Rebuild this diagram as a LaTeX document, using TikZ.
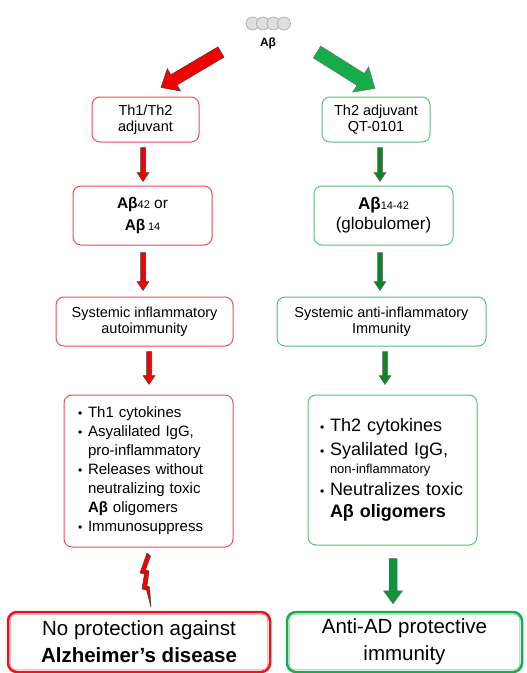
\documentclass[tikz,border=0pt]{standalone}
\usepackage{fontspec}
\setmainfont{Liberation Sans}
\usepackage{tikz}
\usetikzlibrary{calc}
\definecolor{boxred}{rgb}{0.93,0.30,0.32}
\definecolor{boxgreen}{rgb}{0.35,0.75,0.45}
\definecolor{arrred}{rgb}{0.96,0.0,0.0}
\definecolor{arrgreen}{rgb}{0.08,0.68,0.28}
\definecolor{darkgreen}{rgb}{0.05,0.52,0.15}
\definecolor{endred}{rgb}{0.93,0.08,0.10}
\definecolor{endgreen}{rgb}{0.10,0.68,0.32}

\newcommand{\blockarrow}[6][]{%
	\path (#2) coordinate (ba-s) (#3) coordinate (ba-t);
	\path ($(ba-t)!#6!(ba-s)$) coordinate (ba-h);
	\filldraw[#1] ($(ba-s)!#4!90:(ba-t)$) -- ($(ba-h)!#4!90:(ba-t)$)
		-- ($(ba-h)!#5!90:(ba-t)$) -- (ba-t) -- ($(ba-h)!#5!-90:(ba-t)$)
		-- ($(ba-h)!#4!-90:(ba-t)$) -- ($(ba-s)!#4!-90:(ba-t)$) -- cycle;}
\newcommand{\bul}{\makebox[10pt][l]{\fontsize{12pt}{12pt}\selectfont\textbullet}}

\begin{document}
\begin{tikzpicture}[x=1pt, y=-1pt,
	bead/.style={circle, draw=gray!70, fill=gray!25, line width=0.6pt, minimum size=13pt, inner sep=0pt},
	redbox/.style={draw=boxred, line width=1pt, rounded corners=8pt, align=center, inner sep=0pt},
	greenbox/.style={draw=boxgreen, line width=1pt, rounded corners=8pt, align=center, inner sep=0pt},
	endbox/.style={line width=2.5pt, rounded corners=9pt, align=center, inner sep=0pt, font=\fontsize{20.5}{27}\selectfont},
	small/.style={font=\fontsize{14.5}{16}\selectfont},
	redarrow/.style={fill=arrred, draw=black!75, line width=0.5pt},
	greenarrow/.style={fill=darkgreen, draw=black!60, line width=0.5pt}]
	\useasboundingbox (0,0) rectangle (527,673);
	\foreach \i in {0,...,3}{
		\node[bead] (c\i) at (252.5+10.5*\i, 23.5) {};
	}
	\node[font=\bfseries\fontsize{12}{12}\selectfont] (ab) at (268,43) {Aβ};

	\node[redbox, small, minimum width=107pt, minimum height=45pt] (l1) at (145.5,119.5) {Th1/Th2\\adjuvant};
	\node[redbox, font=\fontsize{15.5}{22}\selectfont, minimum width=139pt, minimum height=59pt] (l2) at (142.5,215.5)
		{\textbf{Aβ}{\fontsize{11}{11}\selectfont 42} or\\\textbf{Aβ}\,{\fontsize{11}{11}\selectfont 14}};
	\node[redbox, small, minimum width=177pt, minimum height=49pt] (l3) at (144.5,321.5) {Systemic inflammatory\\autoimmunity};
	\node[redbox, font=\fontsize{15}{19}\selectfont, minimum width=169pt, minimum height=152pt, text width=141pt, align=left] (l4) at (148.5,471)
		{\bul Th1 cytokines\\ \bul Asyalilated IgG,\\ \hspace*{10pt}pro-inflammatory\\ \bul Releases without\\ \hspace*{10pt}neutralizing toxic\\ \hspace*{10pt}\textbf{Aβ} oligomers\\ \bul Immunosuppress};
	\node[endbox, draw=endred, minimum width=262pt, minimum height=60pt] (lb) at (139,642) {No protection against\\\textbf{Alzheimer’s disease}};
	\draw[boxred!60, line width=0.6pt, rounded corners=6pt] ([shift={(3.5pt,-3.5pt)}]lb.north west) rectangle ([shift={(-3.5pt,3.5pt)}]lb.south east);

	\node[greenbox, small, minimum width=108pt, minimum height=45pt] (r1) at (376,119.5) {Th2 adjuvant\\QT-0101};
	\node[greenbox, font=\fontsize{17}{20}\selectfont, minimum width=139pt, minimum height=59pt] (r2) at (383.5,215.5)
		{\textbf{Aβ}{\fontsize{11}{11}\selectfont 14-42}\\(globulomer)};
	\node[greenbox, small, minimum width=209pt, minimum height=49pt] (r3) at (381.5,321.5) {Systemic anti-inflammatory\\Immunity};
	\node[greenbox, font=\fontsize{18}{22}\selectfont, minimum width=169pt, minimum height=150pt, text width=145pt, align=left] (r4) at (392.5,470)
		{\bul Th2 cytokines\\[2pt] \bul Syalilated IgG,\\[-4pt] \hspace*{10pt}{\fontsize{13}{16}\selectfont non-inflammatory}\\ \bul Neutralizes toxic\\ \hspace*{10pt}\textbf{Aβ oligomers}};
	\node[endbox, draw=endgreen, minimum width=235pt, minimum height=60pt] (rb) at (404.5,642) {Anti-AD protective\\immunity};
	\draw[boxgreen!70, line width=0.6pt, rounded corners=6pt] ([shift={(3.5pt,-3.5pt)}]rb.north west) rectangle ([shift={(-3.5pt,3.5pt)}]rb.south east);

	\blockarrow[redarrow]{$(ab)+(-47,9)$}{$(l1.north)+(15.5,-9)$}{6pt}{13pt}{15pt}
	\blockarrow[fill=arrgreen, draw=black!55, line width=0.5pt]{$(ab)+(49,9)$}{$(r1.north)+(-1,-8)$}{7pt}{15pt}{17pt}

	\blockarrow[redarrow]{$(l1.south)+(-2.5,5)$}{$(l2.north)+(0.5,-4)$}{2.5pt}{6pt}{9pt}
	\blockarrow[redarrow]{$(l2.south)+(0.5,7)$}{$(l3.north)+(-1.5,-6)$}{2.5pt}{6pt}{9pt}
	\blockarrow[redarrow]{$(l3.south)+(4.5,5)$}{$(l4.north)+(0.5,-10)$}{2.5pt}{6pt}{9pt}
	\blockarrow[greenarrow]{$(r1.south)+(4,5)$}{$(r2.north)+(-3.5,-4)$}{2.5pt}{6pt}{9pt}
	\blockarrow[greenarrow]{$(r2.south)+(-3.5,7)$}{$(r3.north)+(-1.5,-6)$}{2.5pt}{6pt}{9pt}
	\blockarrow[greenarrow]{$(r3.south)+(3.5,5)$}{$(r4.north)+(-7.5,-10)$}{2.5pt}{6pt}{9pt}
	\blockarrow[greenarrow, fill=arrgreen!85!black]{$(r4.south)+(0.5,13)$}{$(rb.north)+(-11.5,-7)$}{4pt}{9.5pt}{13pt}

	\filldraw[redarrow] (147,553) -- (140,573) -- (144.5,574) -- (142,589) -- (146.5,590) -- (151,607)
		-- (149.5,587) -- (147,586) -- (149,571) -- (145.5,570) -- (150.5,556) -- cycle;
\end{tikzpicture}
\end{document}
